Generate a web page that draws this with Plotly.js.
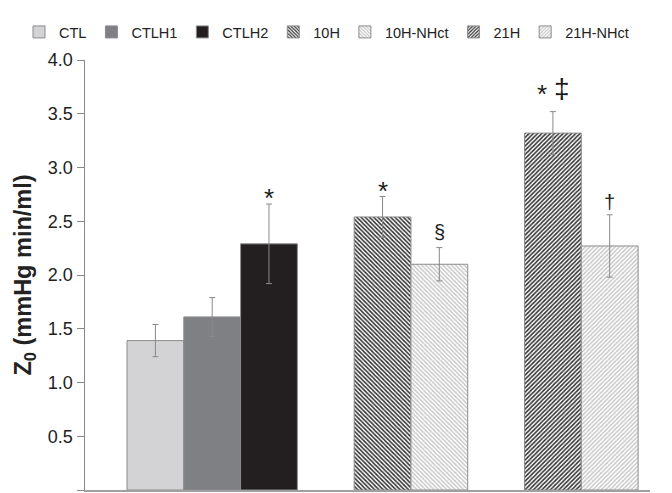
<!DOCTYPE html>
<html>
<head>
<meta charset="utf-8">
<script src="https://cdn.plot.ly/plotly-3.0.1.min.js"></script>
<style>html,body{margin:0;padding:0;background:#fff;}#chart{width:672px;height:493px;}</style>
</head>
<body>
<div id="chart"></div>
<script>
// Data
const groupNames = ["CTL", "10H", "21H"];
const seriesNames = ["CTL", "CTLH1", "CTLH2", "10H", "10H-NHct", "21H", "21H-NHct"];
const seriesGroup = [0, 0, 0, 1, 1, 2, 2];
const means = [1.39, 1.61, 2.29, 2.54, 2.10, 3.32, 2.27];
const sems = [0.15, 0.18, 0.37, 0.19, 0.155, 0.20, 0.29];
const marks = [[], [], ["*"], ["*"], ["§"], ["*", "‡"], ["†"]];

// Styles
const styles = [
  {color: "#d3d3d5"},
  {color: "#7f8084"},
  {color: "#231f20"},
  {color: "#ffffff", pattern: {shape: "\\", fgcolor: "#2e2e2e", bgcolor: "#ffffff", size: 3, solidity: 0.5}},
  {color: "#ffffff", pattern: {shape: "\\", fgcolor: "#c4c4c4", bgcolor: "#ffffff", size: 3, solidity: 0.45}},
  {color: "#ffffff", pattern: {shape: "/", fgcolor: "#2e2e2e", bgcolor: "#ffffff", size: 3, solidity: 0.5}},
  {color: "#ffffff", pattern: {shape: "/", fgcolor: "#c4c4c4", bgcolor: "#ffffff", size: 3, solidity: 0.45}}
];
// per-symbol styling: font size, vertical shift, horizontal shift (when two marks share a bar)
const markStyle = {
  "*": {size: 26, yshift: 6},
  "§": {size: 20, yshift: 16},
  "‡": {size: 28, yshift: 23},
  "†": {size: 20, yshift: 13}
};
const pairXShift = [-11, 9];
const pairYExtra = {"*": 12};

// positions: bars within a group are adjacent, one empty slot between groups
const pos = [];
let p = 0;
for (let i = 0; i < seriesNames.length; i++) {
  if (i > 0 && seriesGroup[i] !== seriesGroup[i - 1]) p += 1;
  pos.push(p);
  p += 1;
}

const traces = seriesNames.map((name, i) => ({
  type: "bar",
  name: name,
  x: [pos[i]],
  y: [means[i]],
  width: 1,
  marker: Object.assign({line: {color: "#8c8c8c", width: 1}}, styles[i]),
  error_y: {type: "data", array: [sems[i]], visible: true, color: "#8a8a8a", thickness: 1, width: 3}
}));

const annotations = [];
seriesNames.forEach((name, i) => {
  const m = marks[i];
  m.forEach((sym, k) => {
    const st = markStyle[sym];
    let ys = st.yshift;
    if (m.length > 1 && pairYExtra[sym]) ys += pairYExtra[sym];
    annotations.push({
      x: pos[i], y: means[i] + sems[i], xref: "x", yref: "y",
      text: sym, showarrow: false, yanchor: "middle", xanchor: "center",
      yshift: ys, xshift: m.length > 1 ? pairXShift[k] : 0,
      font: {family: "Liberation Sans, Arial, sans-serif", size: st.size, color: "#1a1a1a"}
    });
  });
});

const layout = {
  width: 672, height: 493,
  margin: {l: 85, r: 22, t: 60, b: 3, pad: 0, autoexpand: false},
  paper_bgcolor: "#fff", plot_bgcolor: "#fff",
  font: {family: "Liberation Sans, Arial, sans-serif", size: 15, color: "#222"},
  showlegend: true,
  legend: {
    orientation: "h", xref: "paper", yref: "paper",
    x: -0.1168, y: 1.1023, xanchor: "left", yanchor: "top",
    font: {size: 14.5, color: "#222"}, itemwidth: 30, traceorder: "normal"
  },
  bargap: 0,
  xaxis: {
    range: [-1.24, 8.71], showticklabels: false, ticks: "", showgrid: false, zeroline: false,
    showline: true, linecolor: "#a0a0a0", linewidth: 2
  },
  yaxis: {
    range: [0, 4], dtick: 0.5, tickformat: ".1f", ticks: "outside", ticklen: 7, tickcolor: "#888",
    showgrid: false, zeroline: false, showline: true, linecolor: "#888", linewidth: 1.5,
    tickfont: {size: 18, color: "#222"},
    title: {text: "<b>Z<sub>0</sub> (mmHg min/ml)</b>", font: {size: 23.5, color: "#222"}, standoff: 9}
  },
  annotations: annotations
};

Plotly.newPlot("chart", traces, layout, {displayModeBar: false, staticPlot: true});
</script>
</body>
</html>
